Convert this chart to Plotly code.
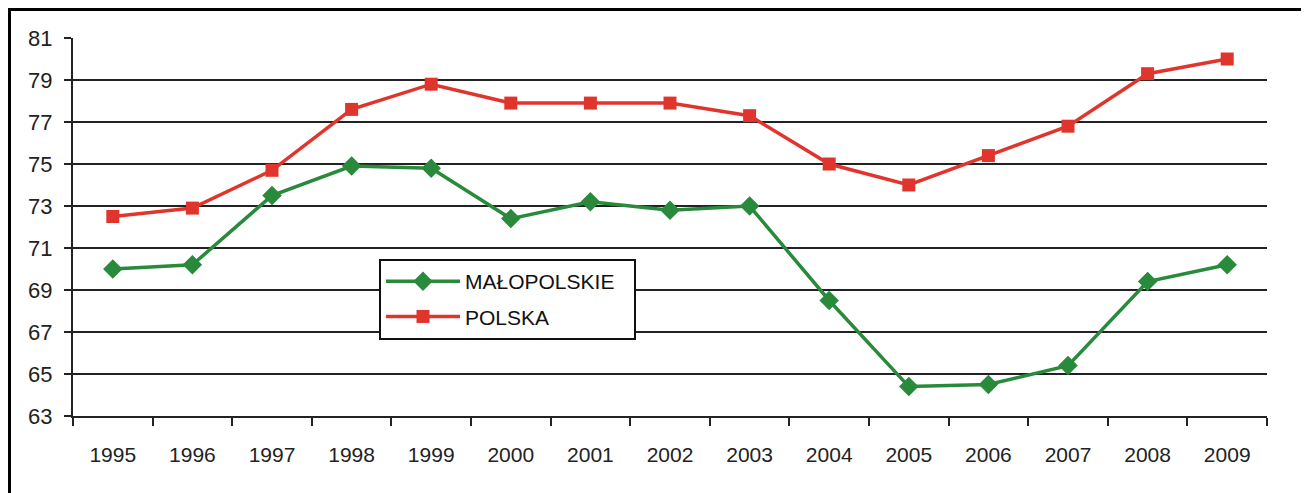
import plotly.graph_objects as go

years = [str(y) for y in range(1995, 2010)]
malopolskie = [70.0, 70.2, 73.5, 74.9, 74.8, 72.4, 73.2, 72.8, 73.0, 68.5, 64.4, 64.5, 65.4, 69.4, 70.2]
polska = [72.5, 72.9, 74.7, 77.6, 78.8, 77.9, 77.9, 77.9, 77.3, 75.0, 74.0, 75.4, 76.8, 79.3, 80.0]
y_ticks = [63, 65, 67, 69, 71, 73, 75, 77, 79, 81]

# page body has an 8px margin, so the figure is drawn 8px smaller/shifted
OFF = 8
W, H = 1309 - OFF, 493 - OFF
L, R, T, B = 73 - OFF, 42, 38 - OFF, 77
pw, ph = W - L - R, H - T - B


def px(x):
    return (x - OFF - L) / pw


def py(y):
    return 1 - (y - OFF - T) / ph


FONT = 'Liberation Sans, Arial, sans-serif'

fig = go.Figure()

fig.add_trace(go.Scatter(
    x=years, y=malopolskie, name='MAŁOPOLSKIE', mode='lines+markers',
    legendgroup='a',
    line=dict(color='#2a8a3c', width=3.5),
    marker=dict(symbol='diamond', size=15, color='#2a8a3c'),
))
fig.add_trace(go.Scatter(
    x=years, y=polska, name='POLSKA', mode='lines+markers',
    legendgroup='b',
    line=dict(color='#e0352d', width=3.5),
    marker=dict(symbol='square', size=13, color='#e0352d'),
))

fig.update_layout(
    width=W, height=H,
    margin=dict(l=L, r=R, t=T, b=B),
    plot_bgcolor='white', paper_bgcolor='white',
    font=dict(family=FONT, size=21, color='#222'),
    showlegend=True,
    legend=dict(
        x=px(379), y=py(259), xanchor='left', yanchor='top',
        bgcolor='rgba(0,0,0,0)', bordercolor='rgba(0,0,0,0)', borderwidth=2,
        font=dict(family=FONT, size=21, color='#111'),
        tracegroupgap=5, itemwidth=74,
    ),
    xaxis=dict(
        type='category', range=[-0.5, 14.5],
        showgrid=False, showline=True, linecolor='#222', linewidth=2,
        ticks='outside', ticklen=8, tickwidth=2, tickcolor='#222',
        tickson='boundaries', ticklabelstandoff=19,
        tickfont=dict(size=21),
    ),
    yaxis=dict(
        range=[63, 81], tickvals=y_ticks,
        showgrid=True, gridcolor='#222', gridwidth=2,
        showline=True, linecolor='#222', linewidth=2,
        ticks='outside', ticklen=7, tickwidth=2, tickcolor='#222',
        zeroline=False, ticklabelstandoff=7,
        tickfont=dict(size=22),
    ),
    shapes=[
        # outer frame of the picture
        dict(type='rect', xref='paper', yref='paper',
             x0=px(9.5), x1=px(1340), y0=py(9.5), y1=py(540),
             line=dict(color='black', width=3), fillcolor='rgba(0,0,0,0)',
             layer='above'),
        # legend box
        dict(type='rect', xref='paper', yref='paper',
             x0=px(380), x1=px(635), y0=py(260), y1=py(339),
             line=dict(color='#111', width=2), fillcolor='white',
             layer='above'),
    ],
)

fig.write_html('out.html')
